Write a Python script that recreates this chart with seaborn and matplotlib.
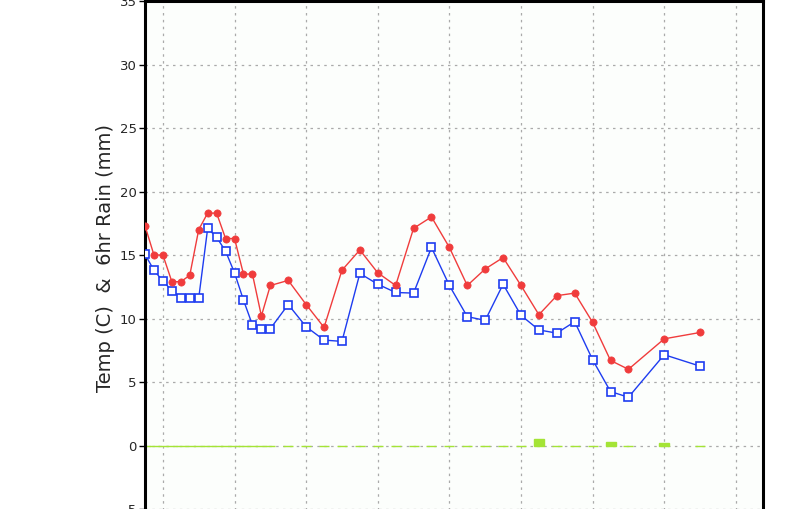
import matplotlib
matplotlib.use("Agg")
import matplotlib.pyplot as plt
import seaborn as sns
import pandas as pd

hours = [0, 3, 6, 9, 12, 15, 18, 21, 24, 27, 30, 33, 36, 39, 42,
         48, 54, 60, 66, 72, 78, 84, 90, 96, 102, 108, 114, 120, 126,
         132, 138, 144, 150, 156, 162, 174, 186]
temp = [17.3, 15.0, 15.0, 12.9, 12.9, 13.4, 17.0, 18.3, 18.3, 16.3, 16.3, 13.5, 13.5, 10.2, 12.6,
        13.0, 11.1, 9.3, 13.8, 15.4, 13.6, 12.6, 17.1, 18.0, 15.6, 12.6, 13.9, 14.8, 12.6,
        10.3, 11.8, 12.0, 9.7, 6.7, 6.0, 8.4, 8.9]
dewpoint = [15.05, 13.8, 12.95, 12.2, 11.65, 11.6, 11.6, 17.1, 16.4, 15.3, 13.6, 11.45, 9.5, 9.2, 9.2,
            11.1, 9.35, 8.3, 8.2, 13.55, 12.7, 12.05, 12.0, 15.6, 12.6, 10.15, 9.85, 12.7, 10.25,
            9.1, 8.85, 9.75, 6.75, 4.25, 3.8, 7.15, 6.25]
rain = [0, 0, 0, 0, 0, 0, 0, 0, 0, 0, 0, 0, 0, 0, 0,
        0, 0, 0, 0, 0, 0, 0, 0, 0, 0, 0, 0, 0, 0,
        0.55, 0, 0, 0, 0.3, 0, 0.2, 0]
ytick_vals = [-5, 0, 5, 10, 15, 20, 25, 30, 35]
grid_hours = [6, 30, 54, 78, 102, 126, 150, 174, 198]
ylabel = "Temp (C)  &  6hr Rain (mm)"

df = pd.DataFrame({"hour": hours, "temp": temp, "dew": dewpoint, "rain": rain})

sns.set_style("white")
plt.rcParams['font.family'] = ['DejaVu Sans']

fig = plt.figure(figsize=(8, 5.09), dpi=100)
fig.patch.set_facecolor("white")
ax = fig.add_axes([145 / 800, -0.0125, 618 / 800, 1.0105])
ax.set_facecolor("#fcfefc")

grid_kw = dict(color="#aaaaaa", lw=0.9, dashes=(2.0, 3.5), zorder=0)
for g in grid_hours:
    ax.axvline(g, **grid_kw)
for t in ytick_vals:
    ax.axhline(t, **grid_kw)

ax.bar(df["hour"], df["rain"], width=3.35, color="#a4e436", edgecolor="#a4e436",
       linewidth=1.0, zorder=2)

sns.lineplot(data=df, x="hour", y="dew", ax=ax, color="#1e3cf0", lw=1.0,
             marker="s", markersize=5.2, markerfacecolor="white",
             markeredgecolor="#1e3cf0", markeredgewidth=1.2, zorder=3)
sns.lineplot(data=df, x="hour", y="temp", ax=ax, color="#f03c3c", lw=1.0,
             marker="o", markersize=5.2, markerfacecolor="#f03c3c",
             markeredgecolor="#f03c3c", markeredgewidth=0.5, zorder=4)

ax.set_xlim(0, 207.1)
ax.set_ylim(-5.5, 35)
ax.set_xticks(grid_hours)
ax.set_xticklabels([])
ax.tick_params(axis="x", length=0)
ax.set_yticks(ytick_vals)
ax.set_yticklabels([str(v) for v in ytick_vals], fontsize=9.5)
ax.tick_params(axis="y", direction="out", length=4, width=1, color="black", pad=2, left=True)
ax.set_xlabel("")
ax.set_ylabel(ylabel, fontsize=14, labelpad=3)

for side in ["left", "right", "top"]:
    ax.spines[side].set_visible(True)
    ax.spines[side].set_color("black")
    ax.spines[side].set_linewidth(2.2)
ax.spines["bottom"].set_visible(False)

fig.savefig("out.png", dpi=100)
